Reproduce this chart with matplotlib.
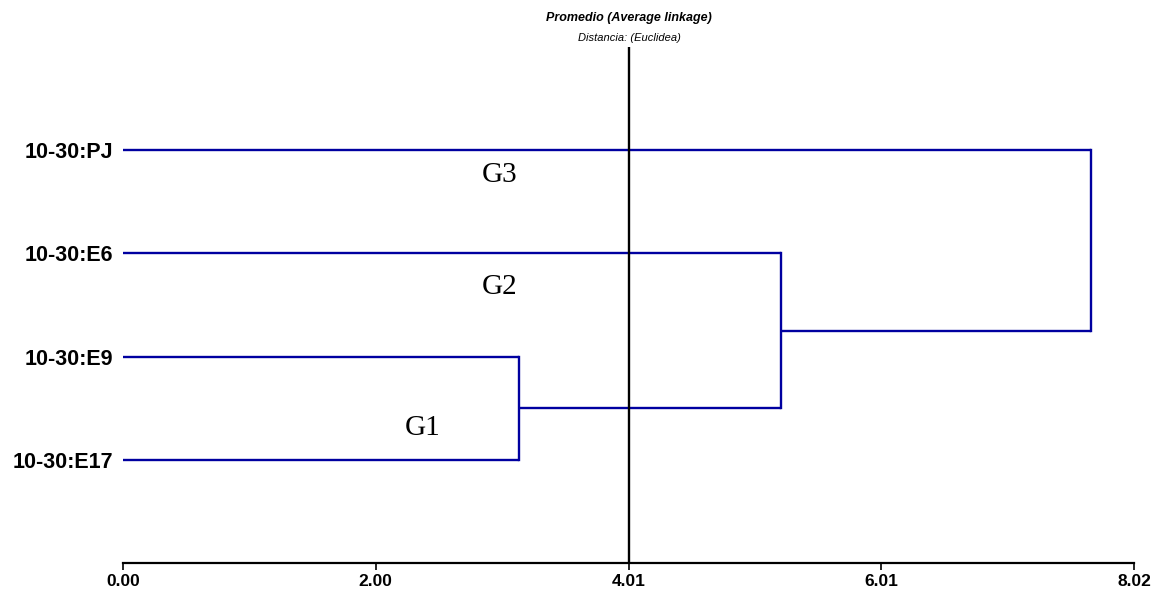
import matplotlib
matplotlib.use("Agg")
from matplotlib import pyplot as plt
import numpy as np

# leaves from top to bottom
leaves = ['10-30:PJ', '10-30:E6', '10-30:E9', '10-30:E17']
leafY = [4, 3, 2, 1]

# merges: (child a, child b, distance); new nodes get index 4, 5, 6...
merges = [(2, 3, 3.14), (1, 4, 5.22), (0, 5, 7.68)]

cutOff = 4.01
xMax = 8.02
xTicks = [0.0, 2.005, 4.01, 6.015, 8.02]
xTickLabels = ['0.00', '2.00', '4.01', '6.01', '8.02']

groups = ['G3', 'G2', 'G1']
groupX = [2.99, 2.99, 2.38]
groupY = [3.76, 2.67, 1.31]

lineColor = '#0000A0'

fig = plt.figure(figsize=(11.64, 5.92), dpi=100)
ax = fig.add_axes([0.1057, 0.049, 0.9742 - 0.1057, 0.9206 - 0.049])

# position (x, y) of every node
nodeX = [0.0] * len(leaves)
nodeY = list(leafY)
for a, b, d in merges:
    for c in (a, b):
        ax.plot([nodeX[c], d], [nodeY[c], nodeY[c]], color=lineColor, lw=1.7,
                solid_capstyle='butt')
    ax.plot([d, d], [nodeY[a], nodeY[b]], color=lineColor, lw=1.7,
            solid_capstyle='projecting')
    nodeX.append(d)
    nodeY.append((nodeY[a] + nodeY[b]) / 2)

# cut line
ax.axvline(cutOff, color='black', lw=1.7)

for g, gx, gy in zip(groups, groupX, groupY):
    ax.text(gx, gy, g, fontsize=21, family='Liberation Serif', ha='center', va='center')

ax.set_xlim(0, xMax)
ax.set_ylim(0, 5)
ax.set_xticks(xTicks)
ax.set_xticklabels(xTickLabels, fontsize=12.5, fontweight='bold', family='Liberation Sans')
ax.set_yticks(leafY)
ax.set_yticklabels(leaves, fontsize=15.5, fontweight='bold', family='Liberation Sans')
ax.tick_params(axis='y', length=0, pad=7)
ax.tick_params(axis='x', length=5, width=1.2, direction='out', pad=3)
for s in ['top', 'right', 'left']:
    ax.spines[s].set_visible(False)
ax.spines['bottom'].set_linewidth(1.6)

fig.text(0.5405, 1 - 18 / 592, 'Promedio (Average linkage)', fontsize=9, fontweight='bold',
         style='italic', family='Liberation Sans', ha='center', va='center')
fig.text(0.5405, 1 - 38 / 592, 'Distancia: (Euclidea)', fontsize=8, style='italic',
         family='Liberation Sans', ha='center', va='center')

fig.savefig('out.png', dpi=100)
